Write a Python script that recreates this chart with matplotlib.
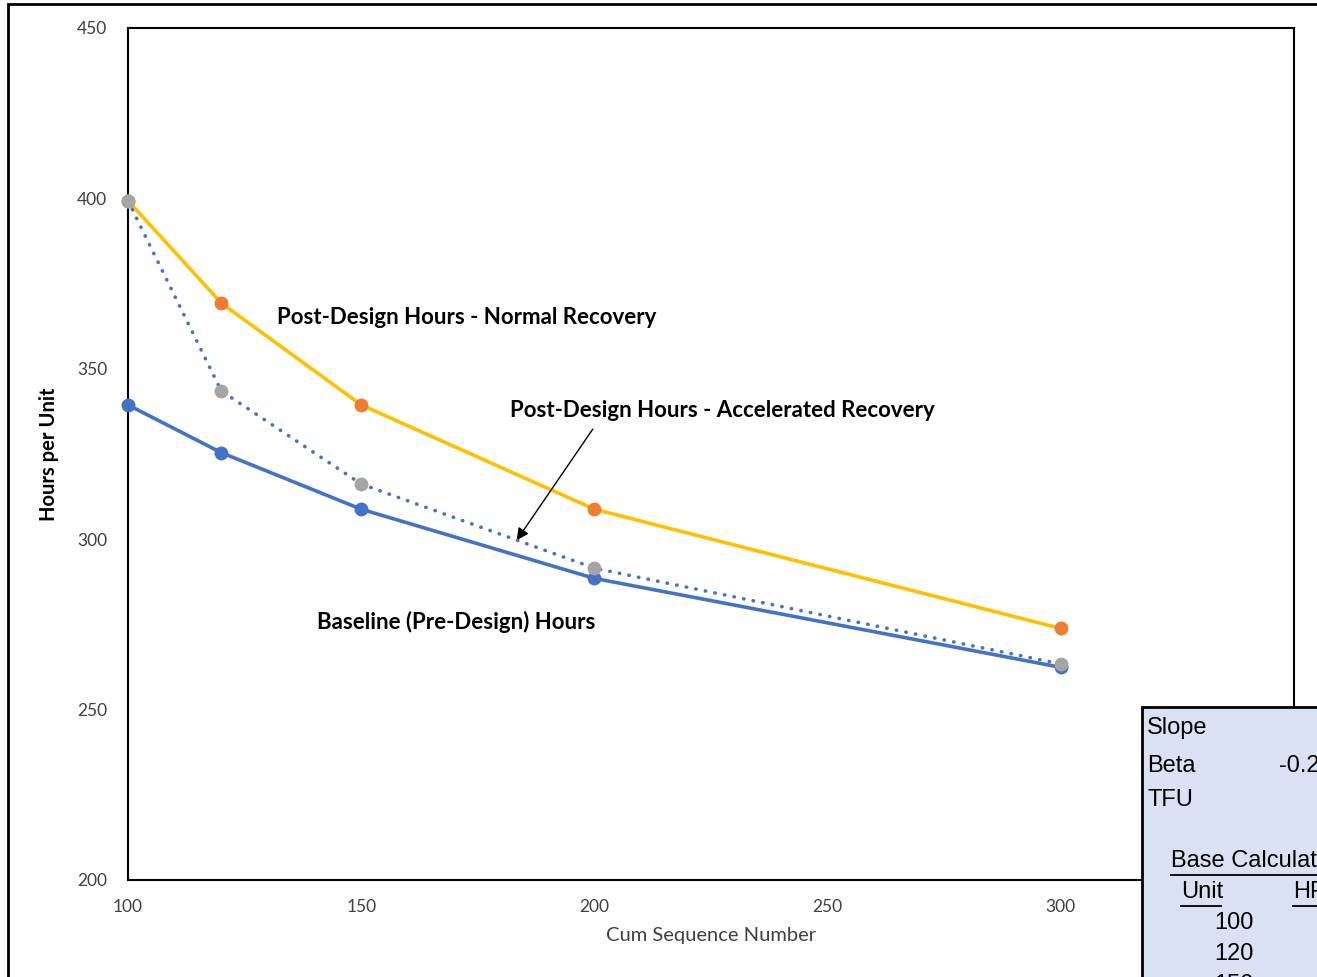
import matplotlib.pyplot as plt
from matplotlib.patches import Rectangle

# cumulative sequence numbers where hours were computed
units = [100, 120, 150, 200, 300]

# hours per unit for each curve
baseline = [339.4, 325.4, 308.8, 288.5, 262.4]
normal_recovery = [399.3, 369.3, 339.4, 308.8, 273.8]
accelerated_recovery = [399.3, 343.5, 316.2, 291.5, 263.4]

x_ticks = [100, 150, 200, 250, 300]
y_ticks = [200, 250, 300, 350, 400, 450]

# learning curve inputs shown in the side panel
param_names = ['Slope', 'Beta', 'TFU']
param_values = ['', '-0.2345', '']
table_units = [100, 120, 150]

BLUE = '#4472C4'
ORANGE = '#ED7D31'
YELLOW = '#FFC000'
GRAY = '#A5A5A5'
TICK_GRAY = '#404040'

W, H = 1317, 977
fig = plt.figure(figsize=(W / 100, H / 100), dpi=100)
plt.rcParams['font.family'] = ['Lato', 'DejaVu Sans']


def fx(px):
    return px / W


def fy(py):
    return 1 - py / H


# chart area border
fig.patches.append(Rectangle((fx(8), fy(1000)), fx(1400), fy(4) - fy(1000),
                             transform=fig.transFigure, fill=False,
                             edgecolor='black', linewidth=2, zorder=0))

ax = fig.add_axes([fx(128), fy(880), fx(1294) - fx(128), fy(28) - fy(880)])

line_kw = dict(linewidth=2.6, marker='o', markersize=9, clip_on=False)
ax.plot(units, baseline, color=BLUE, markerfacecolor=BLUE,
        markeredgecolor=BLUE, zorder=3, **line_kw)
ax.plot(units, normal_recovery, color=YELLOW, markerfacecolor=ORANGE,
        markeredgecolor=ORANGE, zorder=3, **line_kw)
ax.plot(units, accelerated_recovery, color=BLUE, linewidth=2.6,
        linestyle=(0, (0.1, 2.6)), dash_capstyle='round', zorder=4,
        clip_on=False)
ax.plot(units, accelerated_recovery, linestyle='none', marker='o',
        markersize=9, markerfacecolor=GRAY, markeredgecolor=GRAY, zorder=5,
        clip_on=False)

ax.set_xlim(100, 350)
ax.set_ylim(200, 450)
ax.set_xticks(x_ticks)
ax.set_yticks(y_ticks)
ax.tick_params(length=0, labelsize=12.5, labelcolor=TICK_GRAY)
ax.tick_params(axis='y', pad=15)
ax.tick_params(axis='x', pad=14)
for spine in ax.spines.values():
    spine.set_linewidth(1.5)
    spine.set_color('black')

ax.set_xlabel('Cum Sequence Number', fontsize=14.5, color=TICK_GRAY,
              labelpad=8)
ax.set_ylabel('Hours per Unit', fontsize=14.5, fontweight='bold')
ax.yaxis.set_label_coords(-(128 - 59) / (1294 - 128), 0.5)

ax.text(132, 365, 'Post-Design Hours - Normal Recovery', fontsize=16,
        fontweight='bold', va='center', ha='left')
ax.text(182, 337.8, 'Post-Design Hours - Accelerated Recovery', fontsize=16,
        fontweight='bold', va='center', ha='left')
ax.text(140.5, 275.7, 'Baseline (Pre-Design) Hours', fontsize=16,
        fontweight='bold', va='center', ha='left')
ax.annotate('', xy=(183, 299), xytext=(200, 333),
            arrowprops=dict(arrowstyle='-|>', color='black', lw=1,
                            mutation_scale=18))

# parameter panel sitting on top of the chart
fig.patches.append(Rectangle((fx(1142), fy(1000)), fx(300), fy(707) - fy(1000),
                             transform=fig.transFigure, facecolor='#DAE1F2',
                             edgecolor='black', linewidth=2, zorder=10))
tfont = dict(family=['Liberation Sans', 'DejaVu Sans'], fontsize=17,
             zorder=11, transform=fig.transFigure, va='center')
for i, (name, val) in enumerate(zip(param_names, param_values)):
    row_y = [728, 766, 800][i]
    fig.text(fx(1147), fy(row_y), name, ha='left', **tfont)
    if val:
        fig.text(fx(1279), fy(row_y), val, ha='left', **tfont)
fig.text(fx(1171), fy(861), 'Base Calculations', ha='left', **tfont)
fig.text(fx(1181), fy(892), 'Unit', ha='left', **tfont)
fig.text(fx(1293), fy(892), 'HPU', ha='left', **tfont)
for spec in [(1171, 1520, 875), (1181, 1221, 906), (1293, 1400, 906)]:
    fig.lines.append(plt.Line2D([fx(spec[0]), fx(spec[1])],
                                [fy(spec[2]), fy(spec[2])],
                                transform=fig.transFigure, color='black',
                                linewidth=1.3, zorder=11))
for i, u in enumerate(table_units):
    fig.text(fx(1254), fy(923 + 31 * i), str(u), ha='right', **tfont)

fig.savefig('out.png', dpi=100)
